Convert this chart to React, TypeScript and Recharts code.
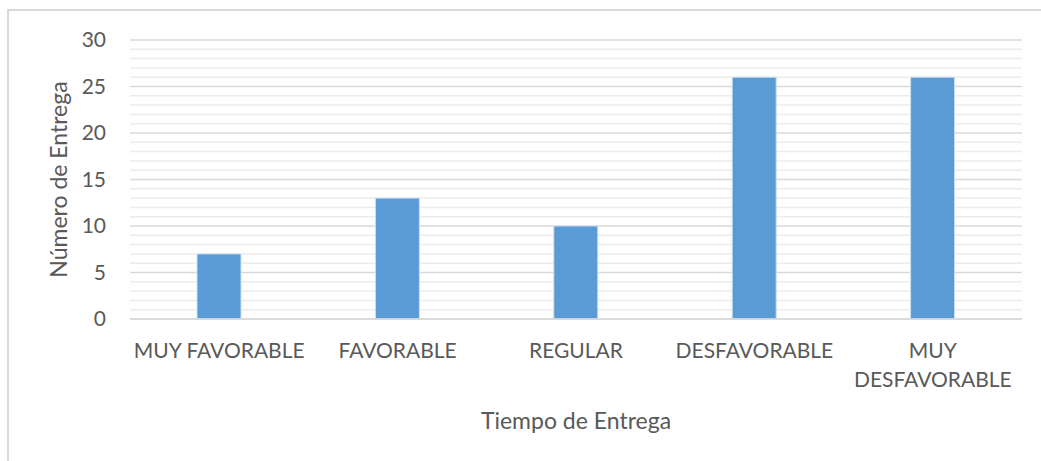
import { Bar, BarChart, CartesianGrid, Label, XAxis, YAxis } from "recharts";

const categories = [
  "MUY FAVORABLE",
  "FAVORABLE",
  "REGULAR",
  "DESFAVORABLE",
  "MUY DESFAVORABLE",
];
const entregas = [7, 13, 10, 26, 26];
const yTicks = [0, 5, 10, 15, 20, 25, 30];
const yMinorTicks = [
  1, 2, 3, 4, 6, 7, 8, 9, 11, 12, 13, 14, 16, 17, 18, 19, 21, 22, 23, 24, 26,
  27, 28, 29,
];
const yMax = 30;

const data = categories.map((name, i) => ({ name, value: entregas[i] }));

const FONT = "Lato, 'Open Sans', sans-serif";
const TEXT_COLOR = "#595959";

// Excel wraps the long label onto two lines
const CategoryTick = ({ x, y, payload }: any) => {
  const label: string = payload.value;
  const lines = label.length > 14 ? label.split(" ") : [label];
  return (
    <text
      x={x}
      y={y + 15}
      textAnchor="middle"
      fill={TEXT_COLOR}
      style={{ fontFamily: FONT, fontSize: 21 }}
    >
      {lines.map((line, i) => (
        <tspan key={i} x={x} dy={i === 0 ? 0 : 29}>
          {line}
        </tspan>
      ))}
    </text>
  );
};

const YTitle = ({ viewBox }: any) => {
  const cx = viewBox.x + 67;
  const cy = viewBox.y + viewBox.height / 2;
  return (
    <text
      x={cx}
      y={cy}
      transform={`rotate(-90, ${cx}, ${cy})`}
      textAnchor="middle"
      fill={TEXT_COLOR}
      style={{ fontFamily: FONT, fontSize: 23 }}
    >
      Número de Entrega
    </text>
  );
};

// minor gridlines, one per unit between the labelled ticks
const minorLines = ({ offset }: any) =>
  yMinorTicks.map((v) => offset.top + offset.height * (1 - v / yMax));

export default function App() {
  return (
    <div
      style={{
        position: "absolute",
        left: 0,
        top: 0,
        width: 1041,
        height: 461,
        background: "#fff",
        overflow: "hidden",
      }}
    >
      <div
        style={{
          position: "absolute",
          left: 7,
          top: 9,
          width: 1100,
          height: 500,
          border: "2px solid #d9d9d9",
        }}
      />
      <div style={{ position: "absolute", left: 0, top: 0 }}>
        <BarChart
          width={1041}
          height={461}
          data={data}
          margin={{ top: 40, right: 19, left: 0, bottom: 0 }}
          barCategoryGap="0%"
        >
          <CartesianGrid
            vertical={false}
            stroke="#ececec"
            strokeWidth={1.5}
            horizontalCoordinatesGenerator={minorLines}
          />
          <CartesianGrid vertical={false} stroke="#d9d9d9" strokeWidth={1.5} />
          <XAxis
            dataKey="name"
            height={142}
            axisLine={{ stroke: "#d9d9d9", strokeWidth: 1.5 }}
            tickLine={false}
            tickMargin={18}
            interval={0}
            tick={<CategoryTick />}
          >
            <Label
              value="Tiempo de Entrega"
              position="insideTop"
              offset={94}
              fill={TEXT_COLOR}
              style={{ fontFamily: FONT, fontSize: 23 }}
            />
          </XAxis>
          <YAxis
            domain={[0, yMax]}
            ticks={yTicks}
            width={130}
            axisLine={false}
            tickLine={false}
            tickMargin={18}
            tick={{ fill: TEXT_COLOR, fontFamily: FONT, fontSize: 21 }}
            label={<YTitle />}
          />
          <Bar
            dataKey="value"
            fill="#5b9bd5"
            stroke="#cfe0f2"
            strokeWidth={1}
            barSize={44}
            isAnimationActive={false}
          />
        </BarChart>
      </div>
    </div>
  );
}
